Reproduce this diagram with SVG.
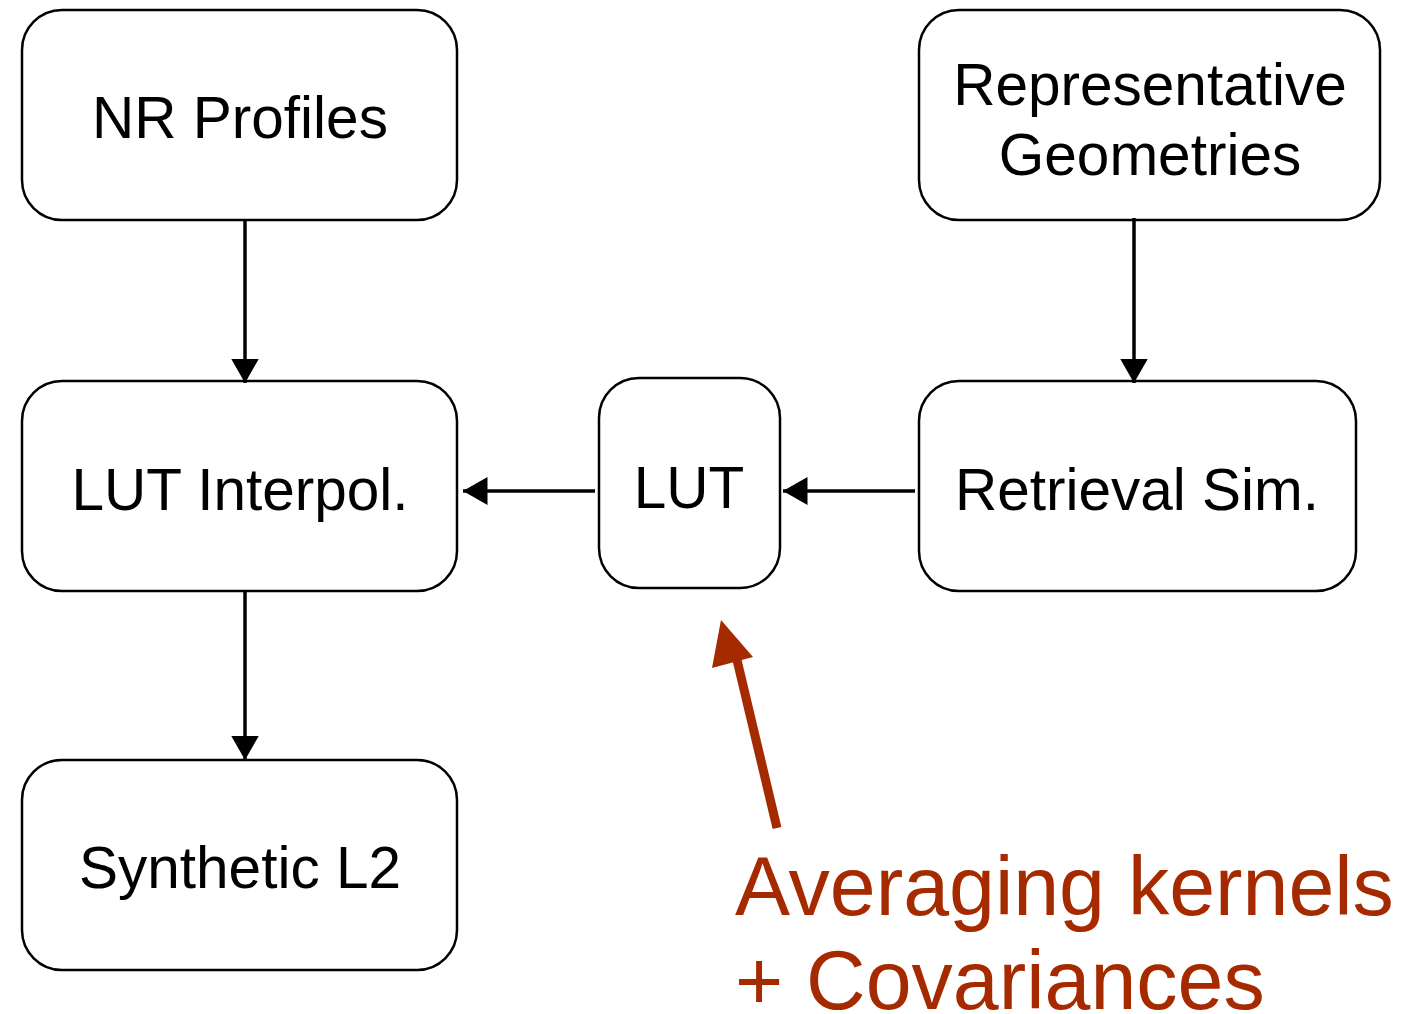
<svg xmlns="http://www.w3.org/2000/svg" width="1405" height="1014" viewBox="0 0 1405 1014">
<style>
.box{fill:#fff;stroke:#000;stroke-width:2.5}
.t{font-family:"Liberation Sans",Arial,sans-serif;font-size:58.5px;fill:#000;text-anchor:middle}
.c{stroke:#000;stroke-width:3.5;fill:none}
.r{font-family:"Liberation Sans",Arial,sans-serif;font-size:82.5px;fill:#A52A00}
</style>
<defs>
<marker id="ah" markerWidth="8" markerHeight="8" refX="7" refY="4" orient="auto" markerUnits="strokeWidth">
<path d="M0,0 L7,4 L0,8 Z" fill="#000"/>
</marker>
</defs>
<rect width="1405" height="1014" fill="#fff"/>
<g id="nr-profiles"><rect class="box" x="22" y="10" width="435" height="210" rx="40"/><text class="t" x="240" y="138">NR Profiles</text></g>
<g id="lut-interpol"><rect class="box" x="22" y="381" width="435" height="210" rx="40"/><text class="t" x="240" y="510">LUT Interpol.</text></g>
<g id="synthetic-l2"><rect class="box" x="22" y="760" width="435" height="210" rx="40"/><text class="t" x="240" y="888">Synthetic L2</text></g>
<g id="lut"><rect class="box" x="599" y="378" width="181" height="210" rx="40"/><text class="t" x="689" y="508">LUT</text></g>
<g id="rep-geo"><rect class="box" x="919" y="10" width="461" height="210" rx="40"/><text class="t" x="1150" y="105">Representative</text><text class="t" x="1150" y="175">Geometries</text></g>
<g id="retrieval-sim"><rect class="box" x="919" y="381" width="437" height="210" rx="40"/><text class="t" x="1137" y="510">Retrieval Sim.</text></g>
<g id="connectors">
<line class="c" x1="245" y1="220" x2="245" y2="383" marker-end="url(#ah)"/>
<line class="c" x1="245" y1="591" x2="245" y2="760" marker-end="url(#ah)"/>
<line class="c" x1="1134" y1="218" x2="1134" y2="383" marker-end="url(#ah)"/>
<line class="c" x1="595" y1="491" x2="463" y2="491" marker-end="url(#ah)"/>
<line class="c" x1="915" y1="491" x2="783" y2="491" marker-end="url(#ah)"/>
</g>
<g id="annotation">
<line x1="777" y1="828" x2="737" y2="660" stroke="#A52A00" stroke-width="9"/>
<polygon points="721,620 753,657 712,668" fill="#A52A00"/>
<text class="r" x="735" y="915">Averaging kernels</text>
<text class="r" x="735" y="1009">+ Covariances</text>
</g>
</svg>
